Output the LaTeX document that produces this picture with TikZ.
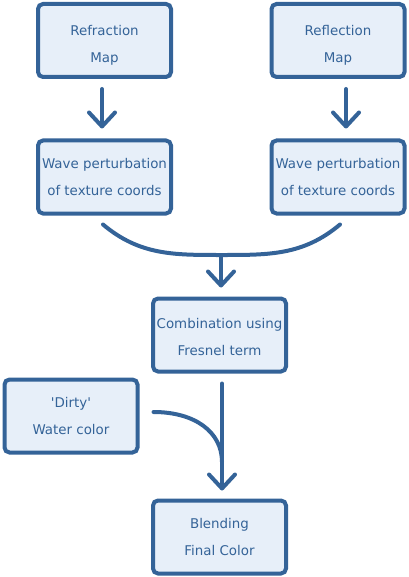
\documentclass[tikz,border=0pt]{standalone}
\usepackage{fontspec}
\setmainfont{DejaVu Sans}[Ligatures=TeXOff]
\usetikzlibrary{arrows.meta}
\definecolor{stroke}{RGB}{52,99,152}
\definecolor{boxfill}{RGB}{231,239,249}
\newcommand\topstrut[1]{\rule{0pt}{#1}}
\begin{document}
\begin{tikzpicture}[x=1pt,y=-1pt,
  box/.style={draw=stroke, fill=boxfill, line width=4pt, rounded corners=5pt,
    minimum width=133pt, minimum height=73pt, inner sep=0pt, align=center,
    text=stroke, font=\fontsize{13.4}{27}\selectfont},
  conn/.style={draw=stroke, line width=4pt, line cap=round},
  arr/.style={conn, -{Straight Barb[length=14pt,width=26pt,round]}}]
\useasboundingbox (0,0) rectangle (408,577);
\node[box] (refr) at (104.5,40.5) {\topstrut{19pt}Refraction\\Map};
\node[box] (refl) at (338,40.5) {\topstrut{19pt}Reflection\\Map};
\node[box] (wave1) at (104.5,177) {Wave perturbation\\of texture coords};
\node[box] (wave2) at (338,177) {Wave perturbation\\of texture coords};
\node[box] (comb) at (219.5,335) {\topstrut{15pt}Combination using\\Fresnel term};
\node[box] (dirty) at (71,416) {'Dirty'\\Water color};
\node[box] (blend) at (219.5,537) {Blending\\Final Color};
% top arrows
\draw[arr] ([xshift=-2.5pt,yshift=-10pt]refr.south) -- ([xshift=-2.5pt,yshift=10pt]wave1.north);
\draw[arr] ([xshift=8pt,yshift=-10pt]refl.south) -- ([xshift=8pt,yshift=10pt]wave2.north);
% merge curve
\coordinate (ma) at ([xshift=-1.5pt,yshift=-9pt]wave1.south);
\coordinate (mb) at ([xshift=2pt,yshift=-9pt]wave2.south);
\coordinate (mm) at (221,255);
\draw[conn] (ma) to[out=-40,in=180] (mm) to[out=0,in=220] (mb);
\draw[arr] (mm) -- ([xshift=1.5pt,yshift=9pt]comb.north);
% lower
\coordinate (ct) at ([xshift=2.5pt,yshift=-10pt]comb.south);
\coordinate (cj) at (222,462);
\draw[arr] (ct) -- ([xshift=2.5pt,yshift=8pt]blend.north);
\draw[conn] ([xshift=14pt,yshift=4pt]dirty.east) .. controls (195,412) and (222,432) .. (cj);
\end{tikzpicture}
\end{document}
